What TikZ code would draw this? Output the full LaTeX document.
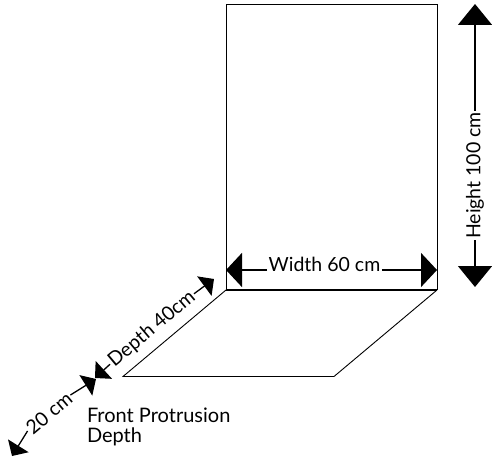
\documentclass[tikz,border=0pt]{standalone}
\usepackage{fontspec}
\setmainfont{Lato}
\usetikzlibrary{arrows.meta}
\tikzset{
  shape line/.style={draw=black,line width=0.9pt},
  lbl/.style={inner sep=0pt,outer sep=1.5pt,font=\fontsize{19.5}{20}\selectfont,text=black},
  bigdim/.style={line width=1.5pt,-{Triangle[length=21pt,width=34pt]}},
  bigdimw/.style={line width=1.5pt,-{Triangle[length=16pt,width=34pt]}},
  smalldim/.style={line width=1.3pt,-{Triangle[length=12pt,width=24pt]}},
}
\begin{document}
\begin{tikzpicture}[x=1pt,y=-1pt]
\useasboundingbox (0,0) rectangle (492,457);
% cabinet and floor
\coordinate (tl) at (226,4.5);
\coordinate (tr) at (437,4.5);
\coordinate (bl) at (226,290);
\coordinate (br) at (437,290);
\coordinate (fl) at (123,376.5);
\coordinate (fr) at (334,376.5);
\draw[shape line] (bl) -- (tl) -- (tr) -- (br);
\draw[line width=1.6pt] (bl) -- (br);
\draw[shape line] (bl) -- (fl) -- (fr) -- (br);
% width
\node[lbl] (w) at (324.5,264) {Width 60 cm};
\coordinate (wl) at (226,270);
\coordinate (wr) at (437,270);
\draw[bigdimw] (w.west |- wl) -- (wl);
\draw[bigdimw] (w.east |- wr) -- (wr);
% height
\node[lbl,rotate=90] (h) at (475,175.5) {Height 100 cm};
\coordinate (ht) at (475,4);
\coordinate (hb) at (475,287);
\draw[bigdim] (h.east) -- (ht);
\draw[bigdim] (h.west) -- (hb);
% depth
\node[lbl,rotate=40] (d) at (152,329) {Depth 40cm};
\coordinate (dt) at (214,279);
\coordinate (db) at (95,378);
\draw[smalldim] (d.east) -- (dt);
\draw[smalldim] (d.west) -- (db);
% protrusion
\node[lbl,rotate=40] (p) at (49,413) {20 cm};
\coordinate (pt) at (96,379);
\coordinate (pb) at (12,456);
\draw[smalldim] (p.east) -- (pt);
\draw[smalldim] (p.west) -- (pb);
\node[lbl,align=left,anchor=north west,outer sep=0pt,font=\fontsize{20}{20}\selectfont] (fp) at (87,408) {Front Protrusion\\Depth};
\end{tikzpicture}
\end{document}
